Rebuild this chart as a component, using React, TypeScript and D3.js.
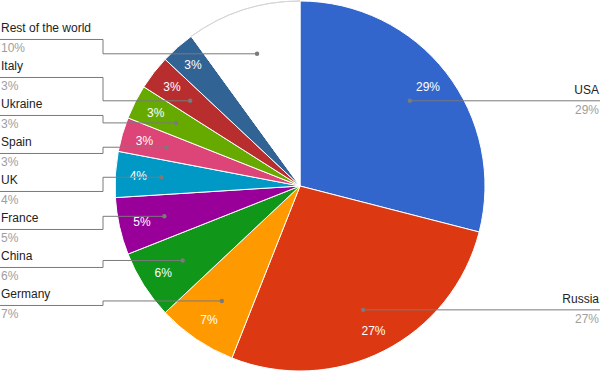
import * as d3 from 'd3'

const countries = ['USA', 'Russia', 'Germany', 'China', 'France', 'UK', 'Spain', 'Ukraine', 'Italy', '', 'Rest of the world']
const shares = [29, 27, 7, 6, 5, 4, 3, 3, 3, 3, 10]
const colors = ['#3366cc', '#dc3912', '#ff9900', '#109618', '#990099', '#0099c6', '#dd4477', '#66aa00', '#b82e2e', '#316395', '#ffffff']

const width = 600
const height = 371
const cx = 300
const cy = 186
const radius = 185
const font = 'Arial, "Liberation Sans", sans-serif'

type Item = { name: string; value: number; color: string }
type Lab = { d: d3.PieArcDatum<Item>; side: number; dot: [number, number]; y: number }

// stack labels on one side, keep clusters centred on their wanted positions
function dodge(labs: Lab[], gap: number) {
	const sorted = [...labs].sort((a, b) => a.dot[1] - b.dot[1])
	let groups = sorted.map((l) => ({ items: [l], want: l.dot[1] }))
	let moved = true
	const top = (g: { items: Lab[]; want: number }) => g.want - ((g.items.length - 1) * gap) / 2
	while (moved) {
		moved = false
		for (let i = 0; i < groups.length - 1; i++) {
			const a = groups[i]
			const b = groups[i + 1]
			if (top(a) + a.items.length * gap > top(b)) {
				const items = [...a.items, ...b.items]
				groups.splice(i, 2, { items, want: d3.mean(items, (l) => l.dot[1]) as number })
				moved = true
				break
			}
		}
	}
	groups.forEach((g) => g.items.forEach((l, i) => (l.y = top(g) + i * gap)))
}

export default function App() {
	const items: Item[] = countries.map((name, i) => ({ name, value: shares[i], color: colors[i] }))
	const pie = d3.pie<Item>().sort(null).value((d) => d.value)
	const arcs = pie(items)
	const arc = d3.arc<d3.PieArcDatum<Item>>().innerRadius(0).outerRadius(radius)
	const textArc = d3.arc<d3.PieArcDatum<Item>>().innerRadius(162).outerRadius(162)
	const dotArc = d3.arc<d3.PieArcDatum<Item>>().innerRadius(139).outerRadius(139)
	const total = d3.sum(shares)
	const pct = (v: number) => `${Math.round((v / total) * 100)}%`

	const labs: Lab[] = arcs
		.filter((d) => d.data.name !== '')
		.map((d) => {
			const c = dotArc.centroid(d)
			return { d, side: c[0] < 0 ? -1 : 1, dot: [cx + c[0], cy + c[1]] as [number, number], y: cy + c[1] }
		})
	dodge(labs.filter((l) => l.side < 0), 38)
	dodge(labs.filter((l) => l.side > 0), 38)

	const white = arcs[arcs.length - 1]
	const outline = d3.arc<d3.PieArcDatum<Item>>().innerRadius(radius).outerRadius(radius)

	return (
		<svg width={width} height={height} style={{ position: 'absolute', left: 0, top: 0 }} fontFamily={font}>
			<g transform={`translate(${cx},${cy})`}>
				{arcs.map((d, i) => (
					<path key={i} d={arc(d) as string} fill={d.data.color} stroke="#ffffff" strokeWidth={1} />
				))}
				<path d={outline(white) as string} fill="none" stroke="#d6d6d6" strokeWidth={1} />
				{arcs.map((d, i) => {
					if (d.data.color === '#ffffff') return null
					const [x, y] = textArc.centroid(d)
					return (
						<text key={i} x={x} y={y} dy="0.35em" textAnchor="middle" fill="#ffffff" fontSize={12}>
							{pct(d.data.value)}
						</text>
					)
				})}
			</g>
			{labs.map((l, i) => {
				const left = l.side < 0
				const edge = left ? 0 : width
				const elbow = left ? 103 : width - 103
				const tx = left ? 1 : width - 1
				const anchor = left ? 'start' : 'end'
				const pts = `${edge},${l.y} ${elbow},${l.y} ${elbow},${l.dot[1]} ${l.dot[0]},${l.dot[1]}`
				return (
					<g key={i}>
						<polyline points={pts} fill="none" stroke="#7a7a7a" strokeWidth={1} />
						<circle cx={l.dot[0]} cy={l.dot[1]} r={2.2} fill="#7a7a7a" />
						<text x={tx} y={l.y - 7} textAnchor={anchor} fill="#222222" fontSize={12}>
							{l.d.data.name}
						</text>
						<text x={tx} y={l.y + 13} textAnchor={anchor} fill="#9e9e9e" fontSize={12}>
							{pct(l.d.data.value)}
						</text>
					</g>
				)
			})}
		</svg>
	)
}
